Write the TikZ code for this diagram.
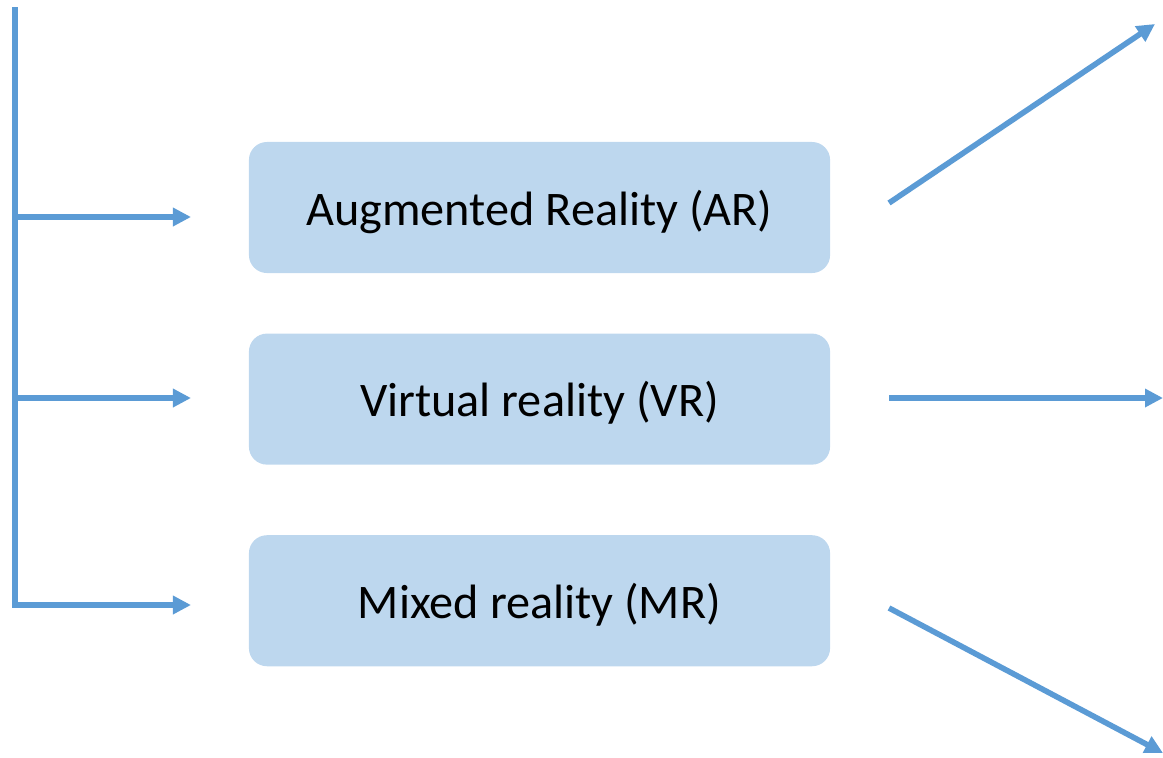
\documentclass[tikz,border=0pt]{standalone}
\usepackage{fontspec}
\setmainfont{Carlito}
\usetikzlibrary{arrows.meta, positioning, calc}
\usepackage{xcolor}

\definecolor{boxblue}{HTML}{BDD7EE}
\definecolor{lineblue}{HTML}{5B9BD5}

\begin{document}
\begin{tikzpicture}[x=0.025cm, y=-0.025cm, >={Triangle[length=0.45cm, width=0.44cm]},
    font=\fontsize{34.3}{41}\selectfont,
    realitybox/.style={fill=boxblue, rounded corners=0.45cm, minimum width=14.525cm,
      minimum height=3.275cm, inner sep=0pt, text depth=0pt},
    link/.style={draw=lineblue, line width=0.14cm, ->}]
  \useasboundingbox (0,0) rectangle (1163,757);

  % The three boxes
  \node (AR) [realitybox] at (539.5,207.5) {Augmented Reality (AR)};
  \node (VR) [realitybox, below=1.5cm of AR] {Virtual reality (VR)};
  \node (MR) [realitybox, below=1.75cm of VR] {Mixed reality (MR)};

  % Left side: trunk and feeding arrows
  \coordinate (top) at (15,7);
  \coordinate (inAR) at (191,217);
  \coordinate (inVR) at (191,398);
  \coordinate (inMR) at (191,605);

  \draw[link] (top) |- (inMR);
  \draw[link] (top |- inAR) -- (inAR);
  \draw[link] (top |- inVR) -- (inVR);

  % Right side: outgoing arrows
  \coordinate (outAR) at (889,203);
  \coordinate (endAR) at (1155,24);
  \coordinate (outVR) at (889,398);
  \coordinate (endVR) at (1163,398);
  \coordinate (outMR) at (889,608);
  \coordinate (endMR) at (1163,753);

  \draw[link] (outAR) -- (endAR);
  \draw[link] (outVR) -- (endVR);
  \draw[link] (outMR) -- (endMR);
\end{tikzpicture}
\end{document}
